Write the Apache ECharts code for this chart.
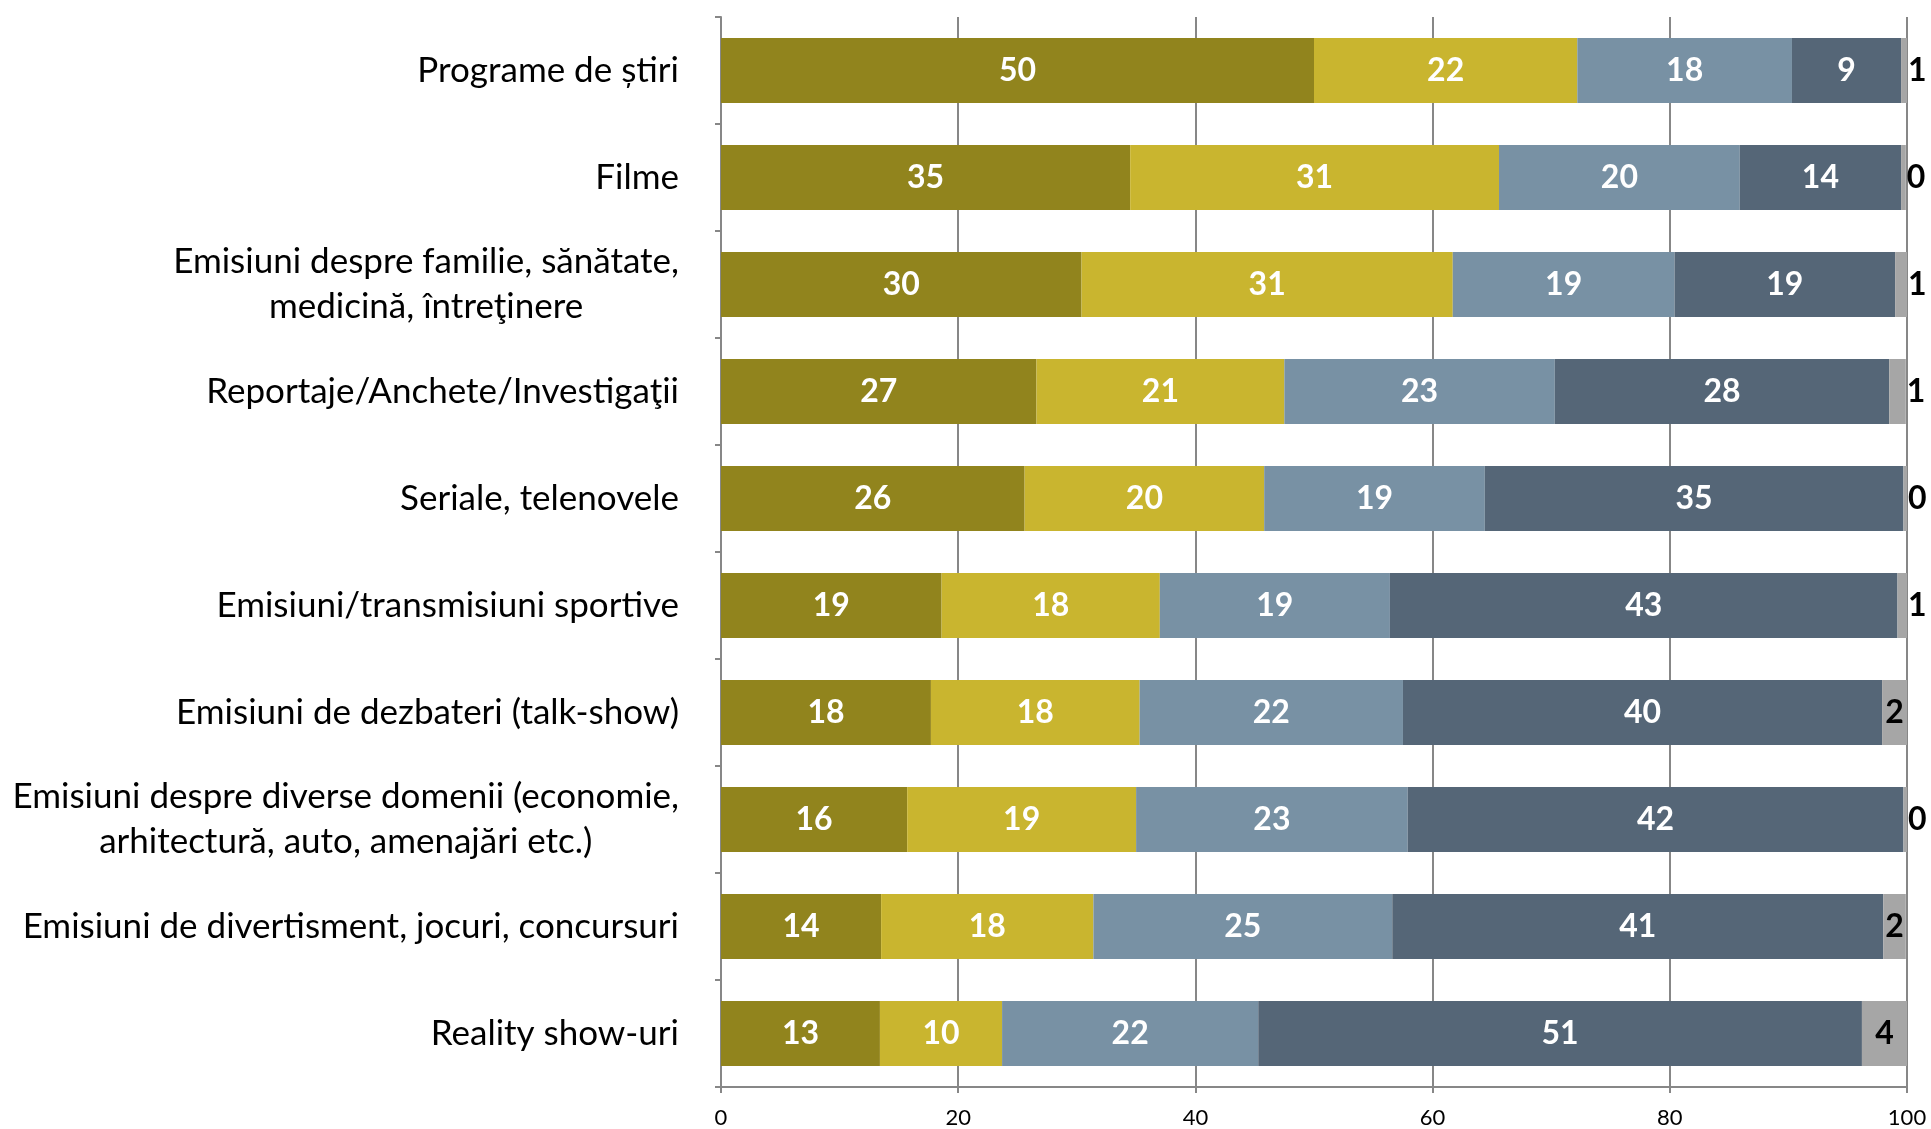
<!DOCTYPE html>
<html>
<head>
<meta charset="utf-8">
<script src="https://cdn.jsdelivr.net/npm/echarts@6/dist/echarts.min.js"></script>
<style>
html,body{margin:0;padding:0;background:#fff;}
#chart{width:1931px;height:1129px;}
</style>
</head>
<body>
<div id="chart"></div>
<script>
const categories = [
  'Programe de știri',
  'Filme',
  'Emisiuni despre familie, sănătate,\nmedicină, întreţinere',
  'Reportaje/Anchete/Investigaţii',
  'Seriale, telenovele',
  'Emisiuni/transmisiuni sportive',
  'Emisiuni de dezbateri (talk-show)',
  'Emisiuni despre diverse domenii (economie,\narhitectură, auto, amenajări etc.)',
  'Emisiuni de divertisment, jocuri, concursuri',
  'Reality show-uri'
];
const seriesNames = ['Seria 1', 'Seria 2', 'Seria 3', 'Seria 4', 'Seria 5'];
const s1 = [50.0, 34.5, 30.4, 26.6, 25.6, 18.6, 17.7, 15.7, 13.5, 13.4];
const s2 = [22.2, 31.1, 31.3, 20.9, 20.2, 18.4, 17.6, 19.3, 17.9, 10.3];
const s3 = [18.1, 20.3, 18.7, 22.8, 18.6, 19.4, 22.2, 22.9, 25.2, 21.6];
const s4 = [9.2, 13.6, 18.6, 28.2, 35.3, 42.8, 40.4, 41.8, 41.4, 50.9];
const s5 = [0.5, 0.4, 1.0, 1.4, 0.3, 0.8, 2.1, 0.3, 1.9, 3.8];
const xTicks = [0, 20, 40, 60, 80, 100];

const colors = ['#91841D', '#C9B52F', '#7891A4', '#556677', '#A6A6A6'];
const FONT = 'Lato';
const gridColor = '#878787';

const chart = echarts.init(document.getElementById('chart'));

function mainSeries(name, data, color) {
  return {
    name: name,
    type: 'bar',
    stack: 'total',
    barWidth: 65,
    data: data,
    itemStyle: { color: color },
    label: {
      show: true,
      position: 'inside',
      color: '#ffffff',
      fontFamily: FONT,
      fontWeight: 'bold',
      fontSize: 32,
      formatter: p => String(Math.round(p.value))
    }
  };
}

const lastData = s5.map(v => ({
  value: v,
  label: v < 1.5 ? { position: 'right', distance: 1 } : { position: 'inside' }
}));

const option = {
  animation: false,
  backgroundColor: '#ffffff',
  grid: { left: 721, right: 24, top: 17, bottom: 41, containLabel: false },
  xAxis: {
    type: 'value',
    min: xTicks[0],
    max: xTicks[xTicks.length - 1],
    interval: 20,
    axisLine: { show: true, lineStyle: { color: gridColor, width: 2 } },
    axisTick: { show: true, length: 6, lineStyle: { color: gridColor, width: 2 } },
    splitLine: { show: true, lineStyle: { color: gridColor, width: 2 } },
    axisLabel: {
      color: '#000000',
      fontFamily: FONT,
      fontSize: 22,
      margin: 20,
      formatter: v => xTicks.includes(v) ? String(v) : ''
    }
  },
  yAxis: {
    type: 'category',
    inverse: true,
    data: categories,
    axisLine: { show: true, lineStyle: { color: gridColor, width: 2 } },
    axisTick: { show: true, length: 6, lineStyle: { color: gridColor, width: 2 } },
    axisLabel: {
      margin: 42,
      color: '#000000',
      fontFamily: FONT,
      fontSize: 35,
      lineHeight: 45,
      formatter: v => v.split('\n').map(l => '{m|' + l + '}').join('\n'),
      rich: {
        m: { align: 'center', fontFamily: FONT, fontSize: 35, lineHeight: 45, color: '#000000' }
      }
    }
  },
  series: [
    mainSeries(seriesNames[0], s1, colors[0]),
    mainSeries(seriesNames[1], s2, colors[1]),
    mainSeries(seriesNames[2], s3, colors[2]),
    mainSeries(seriesNames[3], s4, colors[3]),
    {
      name: seriesNames[4],
      type: 'bar',
      stack: 'total',
      barWidth: 65,
      data: lastData,
      itemStyle: { color: colors[4] },
      label: {
        show: true,
        color: '#000000',
        fontFamily: FONT,
        fontWeight: 'bold',
        fontSize: 32,
        formatter: p => String(Math.round(p.value))
      }
    }
  ]
};
chart.setOption(option);
</script>
</body>
</html>
